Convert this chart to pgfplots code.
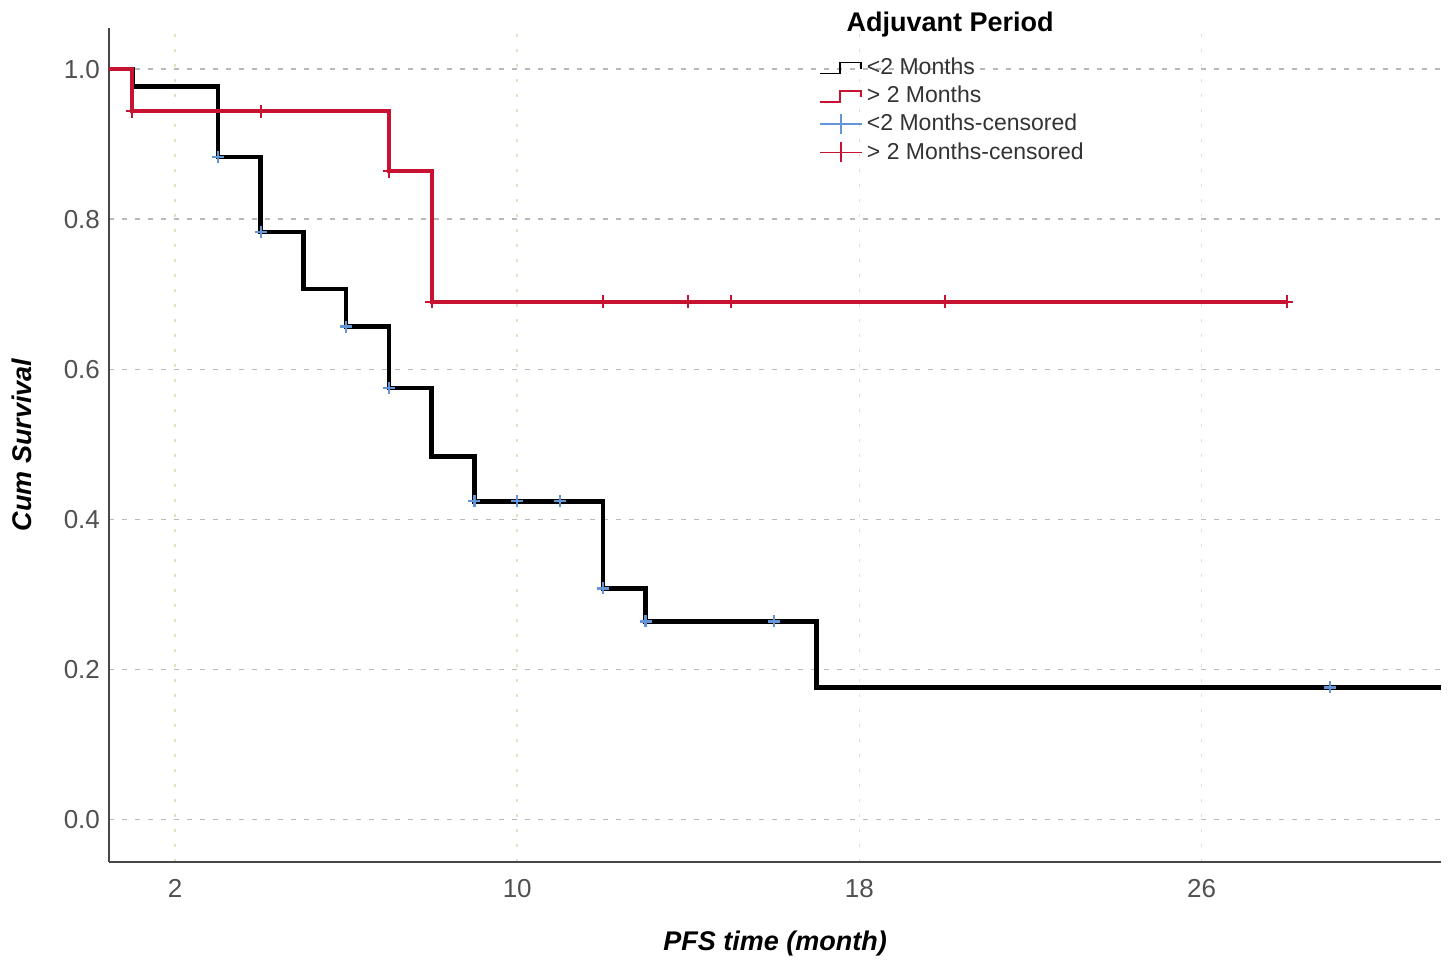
\documentclass[border=0pt]{standalone}
\usepackage{fontspec}
\setmainfont{Liberation Sans}
\usepackage{pgfplots}
\pgfplotsset{compat=1.18}
\usetikzlibrary{calc}
\definecolor{kmred}{RGB}{200,18,50}
\definecolor{kmblue}{RGB}{100,150,215}
\definecolor{gridgray}{RGB}{185,185,185}
\definecolor{gridtan}{RGB}{228,224,196}
\definecolor{ticktext}{RGB}{80,80,80}
\definecolor{axisgray}{RGB}{70,70,70}
\begin{document}
\begin{tikzpicture}
\begin{axis}[
  scale only axis,
  width=666pt, height=417pt,
  xmin=0.455, xmax=31.6,
  ymin=-0.0567, ymax=1.055,
  axis x line*=bottom, axis y line*=left,
  axis line style={axisgray, line width=0.7pt},
  xtick={2,10,18,26},
  ytick={0,0.2,0.4,0.6,0.8,1.0},
  major tick length=0pt,
  /pgf/number format/assume math mode=true,
  yticklabel style={/pgf/number format/fixed, /pgf/number format/fixed zerofill, /pgf/number format/precision=1, xshift=-1pt},
  ticklabel style={font=\fontsize{13}{15}\selectfont, text=ticktext},
  xticklabel style={yshift=-5pt},
  grid=major,
  x grid style={gridtan, line width=0.8pt, dash pattern=on 1.5pt off 6pt},
  y grid style={gridgray, line width=0.8pt, dash pattern=on 2.5pt off 4pt},
  xlabel={\bfseries\itshape PFS time (month)},
  ylabel={\bfseries\itshape Cum Survival},
  xlabel style={at={(axis description cs:0.5,-0.0983)}, anchor=center, font=\fontsize{13.5}{16}\selectfont},
  ylabel style={at={(axis description cs:-0.0653,0.5)}, anchor=center, font=\fontsize{13.5}{16}\selectfont},
  clip=false,
  legend style={draw=none, fill=none, at={(axis description cs:0.5315,0.972)}, anchor=north west,
    font=\fontsize{11.5}{13}\selectfont, text=black!80, row sep=0.3pt, inner sep=1pt},
  legend cell align=left,
]
% <2 Months
\addplot[const plot mark left, black, line width=2.2pt,
  legend image code/.code={\draw[black, line width=0.8pt] (0pt,-3pt) -- (10pt,-3pt) -- (10pt,2.5pt) -- (20.5pt,2.5pt) -- (20.5pt,-0.5pt);}]
  coordinates {(0.455,1.0) (1,0.977) (3,0.883) (4,0.783) (5,0.707) (6,0.657) (7,0.575) (8,0.484) (9,0.424) (12,0.308) (13,0.264) (17,0.176) (31.6,0.176)};
\addlegendentry{<2 Months}
% >2 Months
\addplot[const plot mark left, kmred, line width=2pt,
  legend image code/.code={\draw[kmred, line width=0.8pt] (0pt,-3pt) -- (10pt,-3pt) -- (10pt,2.5pt) -- (20.5pt,2.5pt) -- (20.5pt,-0.5pt);}]
  coordinates {(0.455,1.0) (1,0.944) (7,0.864) (8,0.690) (28,0.690)};
\addlegendentry{> 2 Months}
% <2 Months censored
\addplot[only marks, mark=+, mark size=3pt, kmblue, line width=1.1pt,
  legend image code/.code={\draw[kmblue, line width=0.8pt] (0pt,0pt) -- (21pt,0pt); \draw[kmblue, line width=0.8pt] (10.5pt,-5pt) -- (10.5pt,5pt);}]
  coordinates {(3,0.883) (4,0.783) (6,0.657) (7,0.575) (9,0.424) (10,0.424) (11,0.424) (12,0.308) (13,0.264) (16,0.264) (29,0.176)};
\addlegendentry{<2 Months-censored}
% >2 Months censored
\addplot[only marks, mark=+, mark size=3.2pt, kmred, line width=0.9pt,
  legend image code/.code={\draw[kmred, line width=0.8pt] (0pt,0pt) -- (21pt,0pt); \draw[kmred, line width=0.8pt] (10.5pt,-5pt) -- (10.5pt,5pt);}]
  coordinates {(1,0.944) (4,0.944) (7,0.864) (8,0.690) (12,0.690) (14,0.690) (15,0.690) (20,0.690) (28,0.690)};
\addlegendentry{> 2 Months-censored}
\node[font=\bfseries\fontsize{13.5}{16}\selectfont, anchor=center] at (axis cs:20.12,1.059) {Adjuvant Period};
\coordinate (bl) at (rel axis cs:0,0);
\coordinate (tr) at (rel axis cs:1,1);
\end{axis}
\pgfresetboundingbox
\path ($(bl)+(-54.5pt,-51pt)$) rectangle ($(tr)+(3.5pt,14pt)$);
\end{tikzpicture}
\end{document}
